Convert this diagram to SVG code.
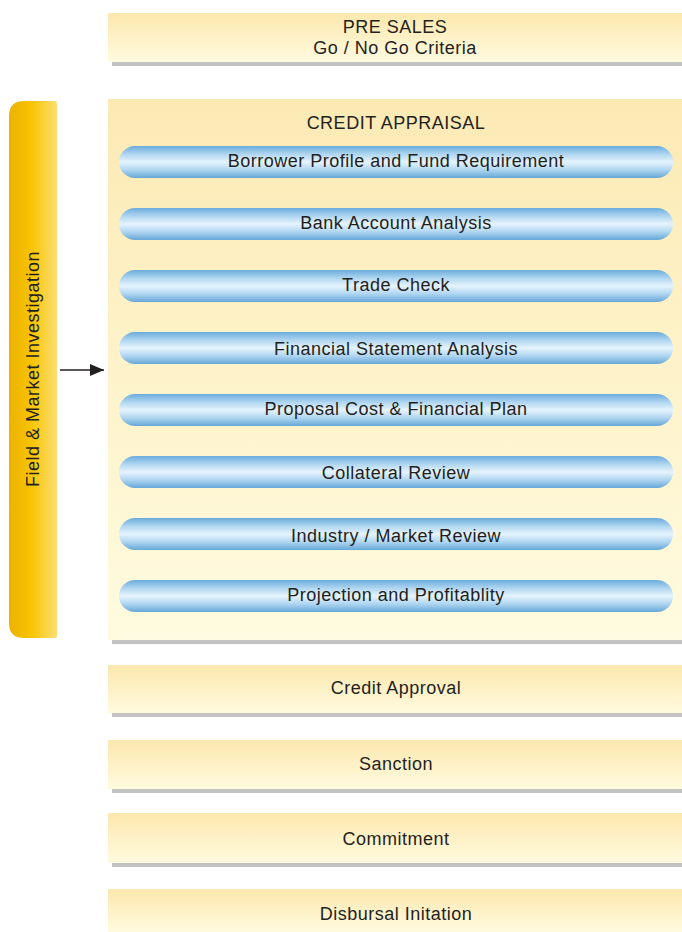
<svg xmlns="http://www.w3.org/2000/svg" width="682" height="932" viewBox="0 0 682 932">
<defs>
<linearGradient id="boxG" x1="0" y1="0" x2="0" y2="1">
<stop offset="0" stop-color="#FCE8AE"/>
<stop offset="1" stop-color="#FFFADF"/>
</linearGradient>
<linearGradient id="bigG" x1="0" y1="0" x2="0" y2="1">
<stop offset="0" stop-color="#FCEAB4"/>
<stop offset="1" stop-color="#FFFBE0"/>
</linearGradient>
<linearGradient id="pillG" x1="0" y1="0" x2="0" y2="1">
<stop offset="0" stop-color="#6AABDB"/>
<stop offset="0.25" stop-color="#AED5F1"/>
<stop offset="0.5" stop-color="#E6F4FD"/>
<stop offset="0.75" stop-color="#AED5F1"/>
<stop offset="1" stop-color="#66A7D7"/>
</linearGradient>
<linearGradient id="barG" x1="0" y1="0" x2="1" y2="0">
<stop offset="0" stop-color="#EBB200"/>
<stop offset="0.45" stop-color="#F8C300"/>
<stop offset="1" stop-color="#FBDF72"/>
</linearGradient>
<marker id="arr" viewBox="0 0 14 12" refX="14" refY="6" markerWidth="14" markerHeight="12" orient="auto" markerUnits="userSpaceOnUse">
<path d="M0,0 L14,6 L0,12 z" fill="#231F20"/>
</marker>
<style>
.t{font-family:"Liberation Sans",Arial,sans-serif;font-size:18px;letter-spacing:0.5px;fill:#231F20;text-anchor:middle}
.sh{fill:#C2C2C2}
.box{fill:url(#boxG)}
.pill{fill:url(#pillG)}
</style>
</defs>

<g id="presales">
<rect class="sh" x="112" y="62" width="570" height="4"/>
<rect class="box" x="108" y="13" width="574" height="49"/>
<text class="t" x="395" y="33">PRE SALES</text>
<text class="t" x="395" y="54">Go / No Go Criteria</text>
</g>

<g id="field-market">
<path d="M24,101 H55 Q57,101 57,103 V636 Q57,638 55,638 H24 Q9,638 9,623 V116 Q9,101 24,101 Z" fill="url(#barG)"/>
<text class="t" transform="translate(39,369) rotate(-90)" x="0" y="0">Field &amp; Market Investigation</text>
</g>

<g id="credit-appraisal">
<rect class="sh" x="112" y="640" width="570" height="4"/>
<rect x="108" y="99" width="574" height="541" fill="url(#bigG)"/>
<text class="t" x="396" y="129">CREDIT APPRAISAL</text>
</g>

<g id="borrower"><rect class="pill" x="119" y="146" width="554" height="32" rx="16"/><text class="t" x="396" y="167">Borrower Profile and Fund Requirement</text></g>
<g id="bank"><rect class="pill" x="119" y="208" width="554" height="32" rx="16"/><text class="t" x="396" y="229">Bank Account Analysis</text></g>
<g id="trade"><rect class="pill" x="119" y="270" width="554" height="32" rx="16"/><text class="t" x="396" y="291">Trade Check</text></g>
<g id="financial"><rect class="pill" x="119" y="332" width="554" height="32" rx="16"/><text class="t" x="396" y="355">Financial Statement Analysis</text></g>
<g id="proposal"><rect class="pill" x="119" y="394" width="554" height="32" rx="16"/><text class="t" x="396" y="415">Proposal Cost &amp; Financial Plan</text></g>
<g id="collateral"><rect class="pill" x="119" y="456" width="554" height="32" rx="16"/><text class="t" x="396" y="479">Collateral Review</text></g>
<g id="industry"><rect class="pill" x="119" y="518" width="554" height="32" rx="16"/><text class="t" x="396" y="542">Industry / Market Review</text></g>
<g id="projection"><rect class="pill" x="119" y="580" width="554" height="32" rx="16"/><text class="t" x="396" y="601">Projection and Profitablity</text></g>

<g id="credit-approval">
<rect class="sh" x="112" y="713" width="570" height="4"/>
<rect class="box" x="108" y="665" width="574" height="48"/>
<text class="t" x="396" y="694">Credit Approval</text>
</g>
<g id="sanction">
<rect class="sh" x="112" y="789" width="570" height="4"/>
<rect class="box" x="108" y="740" width="574" height="49"/>
<text class="t" x="396" y="770">Sanction</text>
</g>
<g id="commitment">
<rect class="sh" x="112" y="863" width="570" height="4"/>
<rect class="box" x="108" y="813" width="574" height="50"/>
<text class="t" x="396" y="845">Commitment</text>
</g>
<g id="disbursal">
<rect class="box" x="108" y="889" width="574" height="43"/>
<text class="t" x="396" y="920">Disbursal Initation</text>
</g>

<g id="connectors">
<line x1="60" y1="370" x2="104" y2="370" stroke="#231F20" stroke-width="1.6" marker-end="url(#arr)"/>
</g>
</svg>
